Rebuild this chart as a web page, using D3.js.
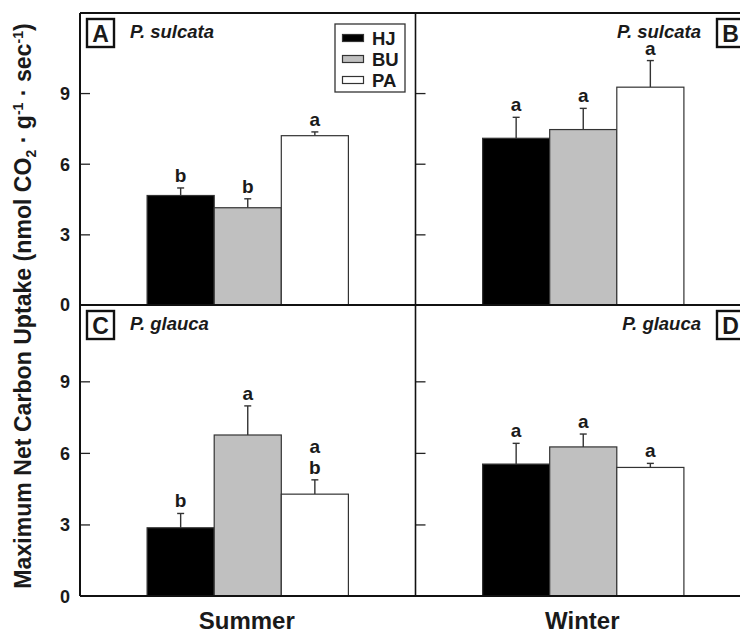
<!DOCTYPE html>
<html lang="en">
  <head>
    <meta charset="UTF-8" />
    <title>Maximum Net Carbon Uptake</title>
    <script src="https://d3js.org/d3.v7.min.js"></script>
    <style>
      body {
        margin: 0;
        background-color: #fff;
        font-family: Arial, "Liberation Sans", sans-serif;
      }
      svg text {
        font-family: Arial, "Liberation Sans", sans-serif;
        font-weight: bold;
        fill: #1a1a1a;
      }
      .tick-label {
        font-size: 18px;
      }
      .sig {
        font-size: 19px;
      }
      .species {
        font-size: 18.5px;
        font-style: italic;
      }
    </style>
  </head>
  <body>
    <div class="chart"></div>

    <script>
      const sites = ["HJ", "BU", "PA"];
      const seasons = ["Summer", "Winter"];
      const species = ["P. sulcata", "P. glauca"];
      const panelLetters = ["A", "B", "C", "D"];
      const yTicks = [0, 3, 6, 9];
      const yMaxRows = [12.4, 12.2];

      // means and upper error (SE) for each site, HJ / BU / PA
      const sulcataSummer = [4.65, 4.13, 7.19];
      const sulcataSummerErr = [0.32, 0.38, 0.16];
      const sulcataWinter = [7.08, 7.45, 9.25];
      const sulcataWinterErr = [0.89, 0.9, 1.13];
      const glaucaSummer = [2.86, 6.75, 4.27];
      const glaucaSummerErr = [0.6, 1.22, 0.6];
      const glaucaWinter = [5.53, 6.25, 5.39];
      const glaucaWinterErr = [0.87, 0.54, 0.17];

      const sulcataSummerSig = ["b", "b", "a"];
      const sulcataWinterSig = ["a", "a", "a"];
      const glaucaSummerSig = ["b", "a", "ab"];
      const glaucaWinterSig = ["a", "a", "a"];

      const panels = [
        { row: 0, col: 0, means: sulcataSummer, errs: sulcataSummerErr, sig: sulcataSummerSig },
        { row: 0, col: 1, means: sulcataWinter, errs: sulcataWinterErr, sig: sulcataWinterSig },
        { row: 1, col: 0, means: glaucaSummer, errs: glaucaSummerErr, sig: glaucaSummerSig },
        { row: 1, col: 1, means: glaucaWinter, errs: glaucaWinterErr, sig: glaucaWinterSig },
      ];

      const fills = d3.scaleOrdinal().domain(sites).range(["#000000", "#c0c0c0", "#ffffff"]);

      const width = 740,
        height = 633;
      const left = 80,
        right = 751,
        rowEdges = [13, 305, 596];

      const svg = d3
        .select(".chart")
        .append("svg")
        .attr("width", width)
        .attr("height", height);

      const xSeason = d3.scaleBand().domain(seasons).range([left, right]);
      const bw = xSeason.bandwidth();
      const xSite = d3.scaleBand().domain(sites).range([bw * 0.2, bw * 0.8]);

      const yRow = yMaxRows.map((m, r) =>
        d3.scaleLinear().domain([0, m]).range([rowEdges[r + 1], rowEdges[r]])
      );

      panels.forEach((p, i) => {
        const y = yRow[p.row];
        const x0 = xSeason(seasons[p.col]);
        const g = svg.append("g").attr("transform", `translate(${x0},0)`);

        const bars = g
          .selectAll(".bar")
          .data(sites.map((s, j) => ({ site: s, mean: p.means[j], err: p.errs[j], sig: p.sig[j] })))
          .enter()
          .append("g");

        // error bars (upper only)
        bars
          .append("line")
          .attr("x1", (d) => xSite(d.site) + xSite.bandwidth() / 2)
          .attr("x2", (d) => xSite(d.site) + xSite.bandwidth() / 2)
          .attr("y1", (d) => y(d.mean))
          .attr("y2", (d) => y(d.mean + d.err))
          .attr("stroke", "#333")
          .attr("stroke-width", 1.4);
        bars
          .append("line")
          .attr("x1", (d) => xSite(d.site) + xSite.bandwidth() / 2 - 3.5)
          .attr("x2", (d) => xSite(d.site) + xSite.bandwidth() / 2 + 3.5)
          .attr("y1", (d) => y(d.mean + d.err))
          .attr("y2", (d) => y(d.mean + d.err))
          .attr("stroke", "#333")
          .attr("stroke-width", 1.4);

        bars
          .append("rect")
          .attr("x", (d) => xSite(d.site))
          .attr("width", xSite.bandwidth())
          .attr("y", (d) => y(d.mean))
          .attr("height", (d) => y(0) - y(d.mean))
          .attr("fill", (d) => fills(d.site))
          .attr("stroke", "#333")
          .attr("stroke-width", 1.2);

        // significance letters (stacked when more than one)
        bars.each(function (d) {
          const letters = d.sig.split("");
          const cx = xSite(d.site) + xSite.bandwidth() / 2;
          const base = y(d.mean + d.err) - 6;
          letters.forEach((l, k) => {
            d3.select(this)
              .append("text")
              .attr("class", "sig")
              .attr("x", cx)
              .attr("y", base - (letters.length - 1 - k) * 21)
              .attr("text-anchor", "middle")
              .text(l);
          });
        });

        // ticks pointing inward from the panel's left edge
        g.append("g")
          .call(d3.axisRight(y).tickValues(yTicks.slice(1)).tickSize(10).tickFormat(""))
          .call((a) => a.select(".domain").remove())
          .selectAll("line")
          .attr("stroke", "#222")
          .attr("stroke-width", 1.3);

        // panel letter box + species name
        const top = rowEdges[p.row];
        const bx = p.col === 0 ? 7 : bw - 7 - 27;
        g.append("rect")
          .attr("x", bx)
          .attr("y", top + 6)
          .attr("width", 27)
          .attr("height", 28)
          .attr("fill", "#fff")
          .attr("stroke", "#111")
          .attr("stroke-width", 2.4);
        g.append("text")
          .attr("x", bx + 13.5)
          .attr("y", top + 29)
          .attr("text-anchor", "middle")
          .style("font-size", "23px")
          .text(panelLetters[i]);
        g.append("text")
          .attr("class", "species")
          .attr("x", p.col === 0 ? 50 : bx - 16)
          .attr("y", top + 25)
          .attr("text-anchor", p.col === 0 ? "start" : "end")
          .text(species[p.row]);
      });

      // tick labels on the left side
      yRow.forEach((y, r) => {
        svg
          .append("g")
          .attr("transform", `translate(${left},0)`)
          .call(d3.axisLeft(y).tickValues(r === 0 ? yTicks.slice(1) : yTicks).tickSize(0).tickPadding(10))
          .call((a) => a.select(".domain").remove())
          .selectAll("text")
          .attr("class", "tick-label")
          .attr("dy", "0.36em");
      });
      // the shared 0 on the divider
      svg
        .append("text")
        .attr("class", "tick-label")
        .attr("x", left - 10)
        .attr("y", yRow[0](0))
        .attr("dy", "0.36em")
        .attr("text-anchor", "end")
        .text(yTicks[0]);

      // frame
      const frame = svg.append("g").attr("stroke", "#111").attr("fill", "none");
      frame.append("line").attr("x1", left).attr("x2", right).attr("y1", rowEdges[0]).attr("y2", rowEdges[0]).attr("stroke-width", 2);
      frame.append("line").attr("x1", left).attr("x2", right).attr("y1", rowEdges[1]).attr("y2", rowEdges[1]).attr("stroke-width", 2);
      frame.append("line").attr("x1", left).attr("x2", right).attr("y1", rowEdges[2]).attr("y2", rowEdges[2]).attr("stroke-width", 2);
      frame.append("line").attr("x1", left).attr("x2", left).attr("y1", rowEdges[0]).attr("y2", rowEdges[2]).attr("stroke-width", 2);
      frame
        .append("line")
        .attr("x1", xSeason(seasons[1]))
        .attr("x2", xSeason(seasons[1]))
        .attr("y1", rowEdges[0])
        .attr("y2", rowEdges[2])
        .attr("stroke-width", 1.6);
      frame.append("line").attr("x1", right).attr("x2", right).attr("y1", rowEdges[0]).attr("y2", rowEdges[2]).attr("stroke-width", 2);

      // season labels
      svg
        .selectAll(".season")
        .data(seasons)
        .enter()
        .append("text")
        .attr("x", (d) => xSeason(d) + bw * 0.5 - 1)
        .attr("y", 629)
        .attr("text-anchor", "middle")
        .style("font-size", "24px")
        .text((d) => d);

      // legend
      const legend = svg.append("g").attr("transform", "translate(335,24)");
      legend
        .append("rect")
        .attr("width", 70)
        .attr("height", 68)
        .attr("fill", "#fff")
        .attr("stroke", "#333")
        .attr("stroke-width", 1.3);
      const items = legend
        .selectAll(".item")
        .data(sites)
        .enter()
        .append("g")
        .attr("transform", (d, i) => `translate(0,${14 + i * 21})`);
      items
        .append("rect")
        .attr("x", 7.5)
        .attr("y", -3.5)
        .attr("width", 21)
        .attr("height", 7)
        .attr("fill", (d) => fills(d))
        .attr("stroke", "#333")
        .attr("stroke-width", 1.2);
      items
        .append("text")
        .attr("x", 37)
        .attr("y", 6.5)
        .style("font-size", "18.5px")
        .text((d) => d);

      // y axis title
      const title = svg
        .append("text")
        .attr("transform", `translate(31,306) rotate(-90)`)
        .attr("text-anchor", "middle")
        .style("font-size", "23.1px");
      title.append("tspan").text("Maximum Net Carbon Uptake (nmol CO");
      title.append("tspan").attr("dy", 5).style("font-size", "14px").text("2");
      title.append("tspan").attr("dy", -5).text(" · g");
      title.append("tspan").attr("dy", -8).style("font-size", "14px").text("-1");
      title.append("tspan").attr("dy", 8).text(" · sec");
      title.append("tspan").attr("dy", -8).style("font-size", "14px").text("-1");
      title.append("tspan").attr("dy", 8).text(")");
    </script>
  </body>
</html>
